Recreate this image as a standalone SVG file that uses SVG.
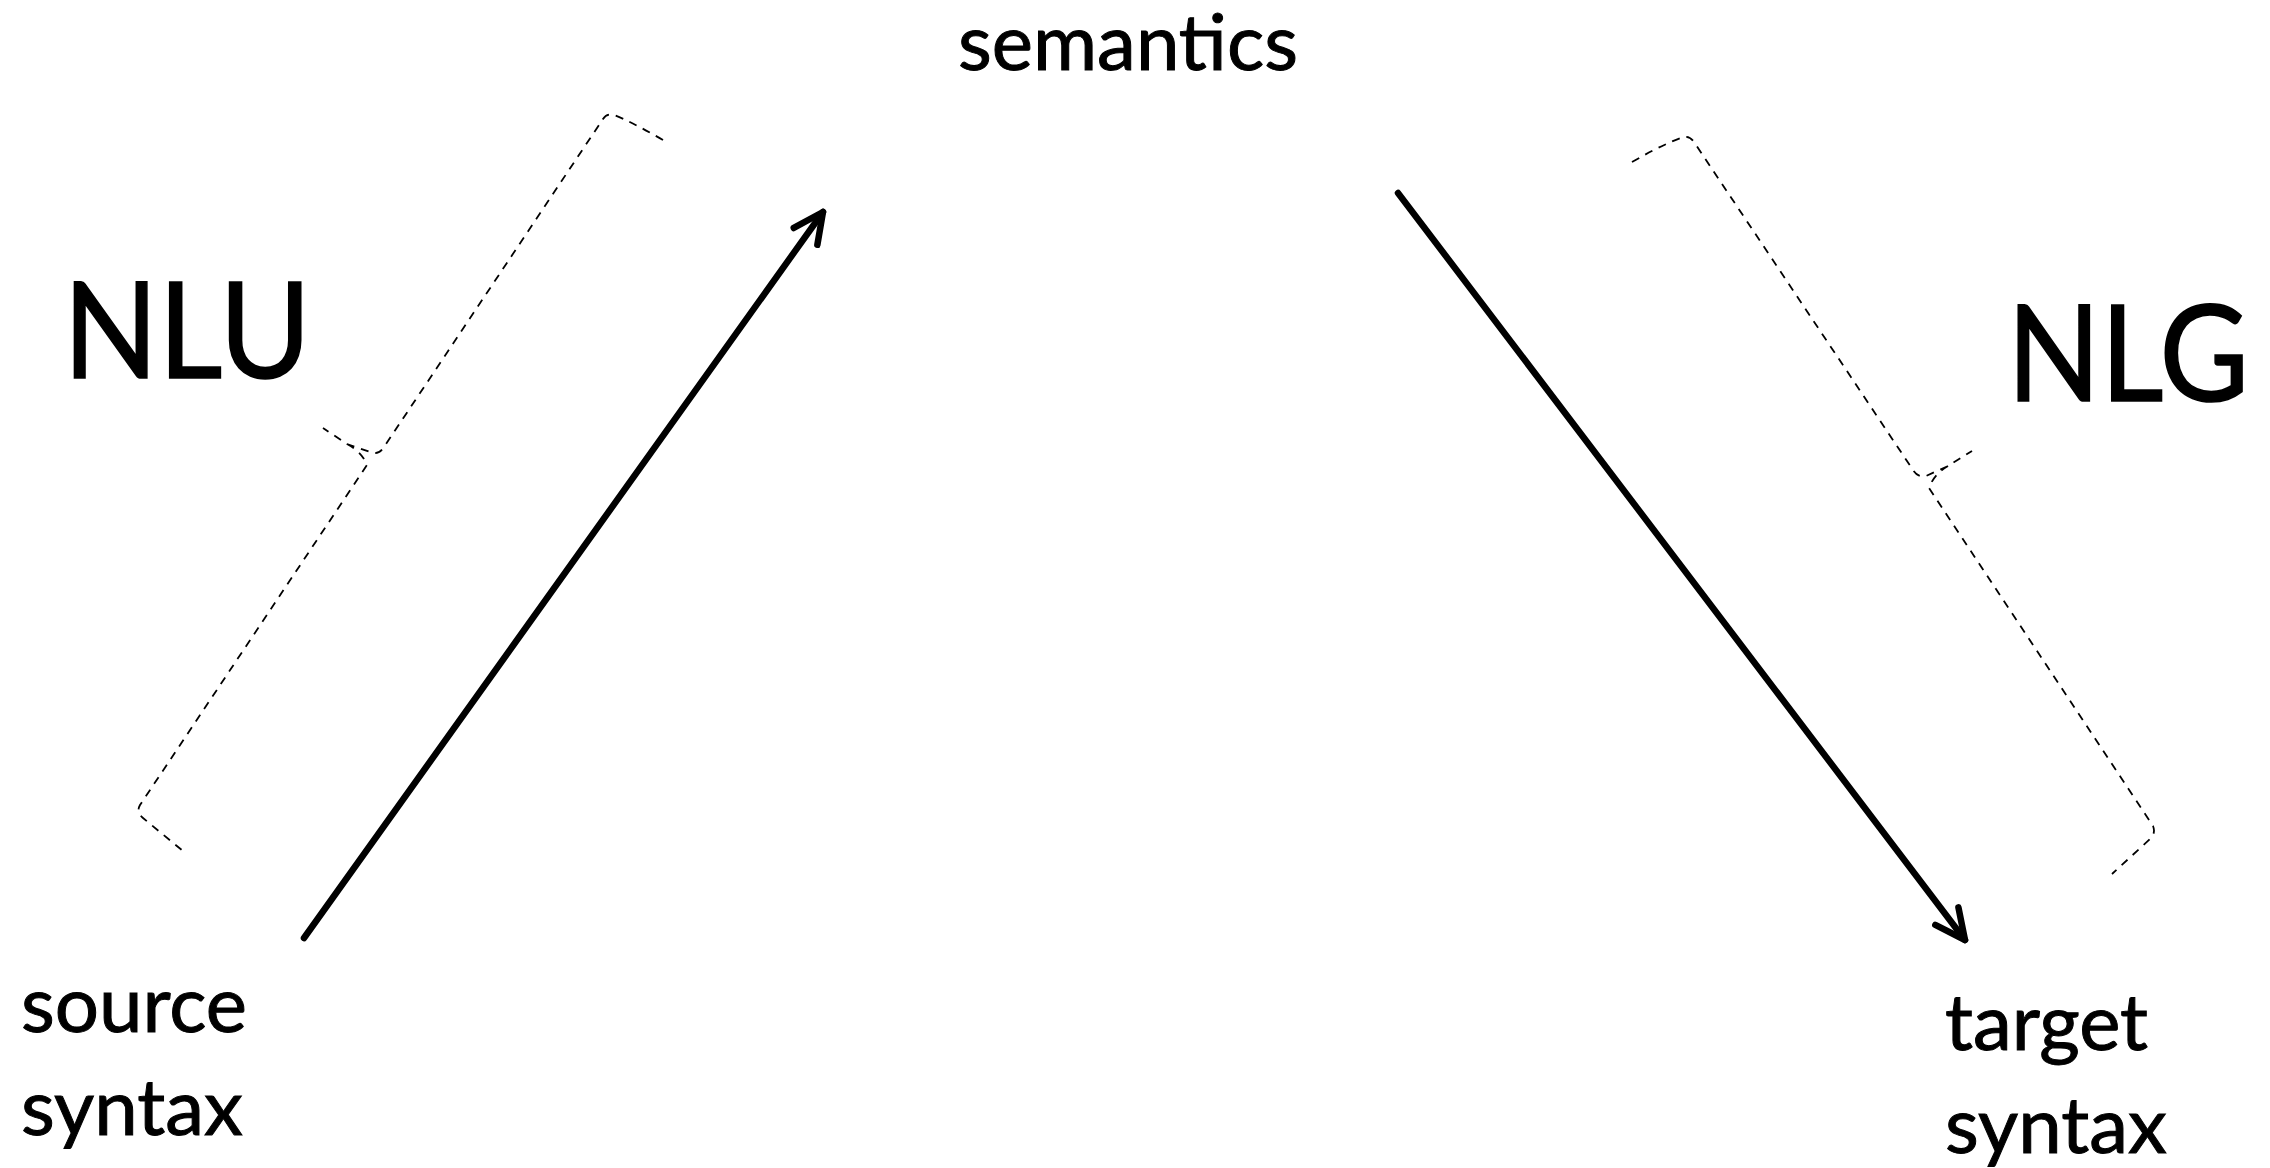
<svg xmlns="http://www.w3.org/2000/svg" width="2270" height="1168" viewBox="0 0 2270 1168">
<style>
.lbl{font-family:"Lato","Open Sans",sans-serif;font-size:78px;fill:#000;stroke:#000;stroke-width:1}
.big{font-family:"Lato","Open Sans",sans-serif;font-size:134px;fill:#000;stroke:#000;stroke-width:1.6}
.brace{fill:none;stroke:#000;stroke-width:1.8;stroke-dasharray:8 7}
.arrow{fill:none;stroke:#000;stroke-width:6.5;stroke-linecap:round;marker-end:url(#head)}
</style>
<defs>
<marker id="head" markerUnits="userSpaceOnUse" markerWidth="60" markerHeight="60" refX="0" refY="0" viewBox="-40 -30 50 60" orient="auto" overflow="visible">
<path d="M-30,-14.5 L0,0 L-30,14.5" fill="none" stroke="#000" stroke-width="6.5" stroke-linecap="round" stroke-linejoin="round"/>
</marker>
</defs>
<rect width="2270" height="1168" fill="#fff"/>
<g id="semantics"><text class="lbl" x="958" y="70">semantics</text></g>
<g id="source-syntax"><text class="lbl" x="21" y="1032">source</text><text class="lbl" x="21" y="1135">syntax</text></g>
<g id="target-syntax"><text class="lbl" x="1945" y="1050">target</text><text class="lbl" x="1945" y="1153">syntax</text></g>
<g id="nlu"><text class="big" x="63" y="378" textLength="248" lengthAdjust="spacingAndGlyphs">NLU</text></g>
<g id="nlg"><text class="big" x="2007" y="401" textLength="242" lengthAdjust="spacingAndGlyphs">NLG</text></g>
<g id="brace-nlu"><path class="brace" d="M663,140 Q630,121 614,115 Q607,113 603,119 L384,447 Q378,456 370,452 L347,444 L323,428 M347,444 Q362,452 367,465 L140,805 Q136,812 143,818 L183,851"/></g>
<g id="brace-nlg"><path class="brace" d="M1632,162 Q1665,143 1684,137 Q1690,136 1694,142 L1913,470 Q1918,478 1926,476 L1948,466 L1972,451 M1948,466 Q1934,474 1929,488 L2153,826 Q2156,833 2150,839 L2112,874"/></g>
<g id="connectors">
<line class="arrow" x1="304" y1="938" x2="823" y2="212"/>
<line class="arrow" x1="1398" y1="193" x2="1965" y2="940"/>
</g>
</svg>
